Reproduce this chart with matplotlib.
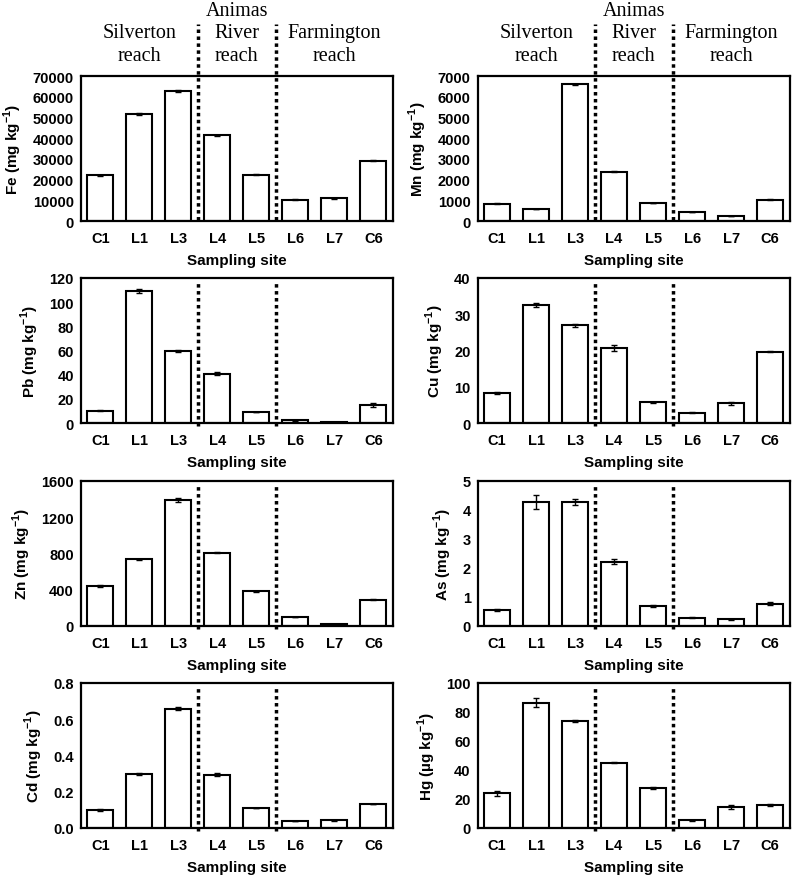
import matplotlib
matplotlib.use("Agg")

import matplotlib.pyplot as plt

plt.rcParams["font.family"] = ["Liberation Sans", "DejaVu Sans"]
plt.rcParams["font.weight"] = "bold"
plt.rcParams["mathtext.fontset"] = "custom"
plt.rcParams["mathtext.rm"] = "Liberation Sans:bold"
plt.rcParams["mathtext.bf"] = "Liberation Sans:bold"

sites = ["C1", "L1", "L3", "L4", "L5", "L6", "L7", "C6"]

fe = [22000, 51700, 62800, 41300, 22300, 10200, 11000, 29200]
fe_err = [300, 300, 300, 300, 300, 200, 200, 300]
mn = [840, 580, 6590, 2380, 870, 440, 230, 1020]
mn_err = [20, 20, 40, 20, 20, 10, 10, 20]
pb = [10.2, 109, 59.4, 40.9, 9.1, 2.2, 1.1, 14.9]
pb_err = [0.3, 1.5, 1.0, 1.0, 0.3, 0.2, 0.1, 1.5]
cu = [8.2, 32.5, 27.0, 20.8, 5.7, 2.85, 5.4, 19.7]
cu_err = [0.3, 0.5, 0.4, 0.8, 0.2, 0.1, 0.4, 0.2]
zn = [437, 735, 1390, 808, 382, 99, 18, 290]
zn_err = [10, 5, 20, 5, 3, 3, 3, 5]
as_ = [0.54, 4.28, 4.28, 2.22, 0.70, 0.28, 0.23, 0.76]
as_err = [0.04, 0.25, 0.10, 0.10, 0.04, 0.02, 0.01, 0.05]
cd = [0.099, 0.297, 0.659, 0.295, 0.110, 0.037, 0.042, 0.132]
cd_err = [0.004, 0.004, 0.010, 0.008, 0.002, 0.001, 0.001, 0.002]
hg = [23.8, 86.5, 73.7, 44.9, 27.9, 5.3, 14.4, 16.0]
hg_err = [1.5, 3.0, 0.8, 0.3, 0.7, 0.2, 1.2, 0.6]

panels = [
    ("Fe", "mg", fe, fe_err, 70000, 10000, "{:.0f}"),
    ("Mn", "mg", mn, mn_err, 7000, 1000, "{:.0f}"),
    ("Pb", "mg", pb, pb_err, 120, 20, "{:.0f}"),
    ("Cu", "mg", cu, cu_err, 40, 10, "{:.0f}"),
    ("Zn", "mg", zn, zn_err, 1600, 400, "{:.0f}"),
    ("As", "mg", as_, as_err, 5, 1, "{:.0f}"),
    ("Cd", "mg", cd, cd_err, 0.8, 0.2, "{:.1f}"),
    ("Hg", "µg", hg, hg_err, 100, 20, "{:.0f}"),
]

reaches = [("Silverton\nreach", 1.0), ("River\nreach", 3.5), ("Farmington\nreach", 6.0)]
splits = [2.5, 4.5]

fig = plt.figure(figsize=(8, 8.79), dpi=100)

lefts = [0.101, 0.597]
bottoms = [0.7474, 0.5176, 0.2867, 0.0569]
w, h = 0.39, 0.165

for i, (el, unit, vals, errs, ymax, step, fmt) in enumerate(panels):
    row, col = divmod(i, 2)
    ax = fig.add_axes([lefts[col], bottoms[row], w, h])
    x = range(len(sites))
    ax.bar(x, vals, width=0.67, color="white", edgecolor="black", linewidth=1.5,
           yerr=errs, error_kw=dict(ecolor="black", elinewidth=1, capsize=2, capthick=1))
    ax.set_xlim(-0.5, 7.5)
    ax.set_ylim(0, ymax)
    ticks = [k * step for k in range(int(round(ymax / step)) + 1)]
    ax.set_yticks(ticks)
    ax.set_yticklabels([fmt.format(t) for t in ticks], fontsize=10.5, fontweight="bold")
    ax.set_xticks(list(x))
    ax.set_xticklabels(sites, fontsize=10.5, fontweight="bold")
    ax.tick_params(axis="x", length=0, pad=7)
    ax.tick_params(axis="y", length=0, pad=5)
    for s in ax.spines.values():
        s.set_linewidth(1.6)
    ax.set_xlabel("Sampling site", fontsize=11, fontweight="bold", labelpad=6)
    ax.set_ylabel(el + " (" + unit + r" kg$^{-1}$)", fontsize=11, fontweight="bold", labelpad=6)

    if row == 0:
        for xs in splits:
            ax.axvline(xs, ymin=0.01, ymax=1.36, color="black", linestyle=(0, (1, 1)),
                       linewidth=2.5, clip_on=False)
        for label, xc in reaches:
            ax.text(xc, ymax * 1.22, label, ha="center", va="center", fontsize=14.5,
                    fontweight="normal", family="Liberation Serif", linespacing=1.3)
        ax.text(3.5, ymax * 1.455, "Animas", ha="center", va="center", fontsize=14.5,
                fontweight="normal", family="Liberation Serif")
    else:
        for xs in splits:
            ax.axvline(xs, ymin=-0.02, ymax=0.97, color="black", linestyle=(0, (1, 1)),
                       linewidth=2.5, clip_on=False)

fig.savefig("out.png", dpi=100)
